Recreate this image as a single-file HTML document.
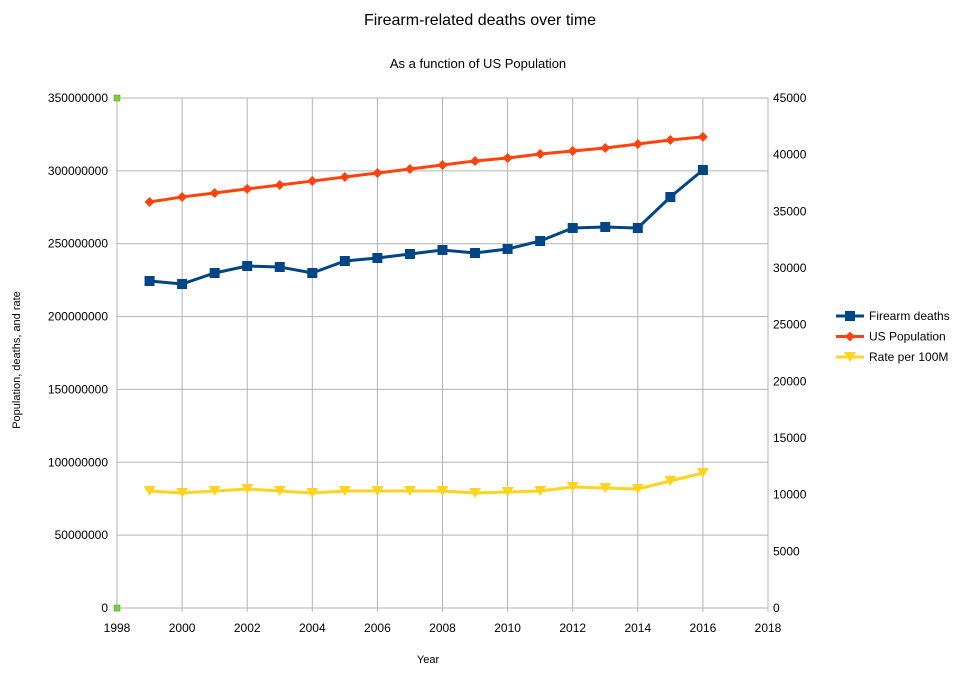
<!DOCTYPE html>
<html><head><meta charset="utf-8"><style>
body{margin:0;background:#fff;font-family:"Liberation Sans",sans-serif}
svg text{font-family:"Liberation Sans",sans-serif;fill:#000}
</style></head><body>
<svg id="c" width="960" height="668">
<text x="480" y="25" font-size="16" text-anchor="middle">Firearm-related deaths over time</text>
<text x="478" y="68" font-size="13" text-anchor="middle">As a function of US Population</text>
<text transform="translate(20,360) rotate(-90)" font-size="11" text-anchor="middle">Population, deaths, and rate</text>
<text x="428" y="663" font-size="11" text-anchor="middle">Year</text>
<g id="grid"></g><g id="marks"></g><g id="legend"></g>
</svg>
<script>
const years=[1999,2000,2001,2002,2003,2004,2005,2006,2007,2008,2009,2010,2011,2012,2013,2014,2015,2016];
const deaths=[28853,28588,29559,30176,30088,29559,30618,30882,31235,31588,31324,31676,32382,33529,33618,33529,36265,38647];
const population=[278.6e6,282.1e6,284.8e6,287.6e6,290.3e6,293.0e6,295.8e6,298.5e6,301.3e6,304.0e6,306.8e6,308.8e6,311.6e6,313.6e6,315.7e6,318.4e6,321.2e6,323.3e6];
const rate=[10324,10147,10324,10500,10324,10147,10324,10324,10324,10324,10147,10235,10324,10676,10588,10500,11206,11912];
const xTicks=[1998,2000,2002,2004,2006,2008,2010,2012,2014,2016,2018];
const leftTicks=[0,50000000,100000000,150000000,200000000,250000000,300000000,350000000];
const rightTicks=[0,5000,10000,15000,20000,25000,30000,35000,40000,45000];
const X0=117,X1=768,Y0=608,Y1=98;
const xs=v=>X0+(v-1998)/20*(X1-X0);
const yl=v=>Y0-v/350e6*(Y0-Y1);
const yr=v=>Y0-v/45000*(Y0-Y1);
const NS="http://www.w3.org/2000/svg";
function mk(tag,attrs,parent,txt){const e=document.createElementNS(NS,tag);for(const k in attrs)e.setAttribute(k,attrs[k]);if(txt!==undefined)e.textContent=txt;parent.appendChild(e);return e;}
const grid=document.getElementById('grid'),marks=document.getElementById('marks'),leg=document.getElementById('legend');
leftTicks.forEach(t=>{const y=yl(t);
 const l=mk('line',{x1:X0,x2:X1,y1:y,y2:y,stroke:'#b3b3b3','stroke-width':1},grid);
 
 
 const tx=mk('text',{x:108,y:y+4,'font-size':12,'text-anchor':'end'},grid,String(t));
 
 });
rightTicks.forEach(t=>{const y=yr(t);
 const tx=mk('text',{x:773,y:y+4,'font-size':12},grid,String(t));
 
 });
xTicks.forEach(t=>{const x=xs(t);
 const l=mk('line',{x1:x,x2:x,y1:Y1,y2:Y0+4,stroke:'#b3b3b3','stroke-width':1},grid);
 
 
 const tx=mk('text',{x:x,y:632,'font-size':12,'text-anchor':'middle'},grid,String(t));
 
 });
[Y1,Y0].forEach(y=>{const r=mk('rect',{x:X0-3,y:y-3,width:6,height:6,fill:'#7fd13b',stroke:'#4a8a1c','stroke-width':0.5},grid);
 
 });
function series(vals,sc,color,shape,name){
 const pts=vals.map((v,i)=>[xs(years[i]),sc(v)]);
 const p=mk('polyline',{points:pts.map(p=>p.join(',')).join(' '),fill:'none',stroke:color,'stroke-width':3},marks);
 
 
 pts.forEach(([x,y])=>{drawMarker(x,y,color,shape,name+'-point');});}
function drawMarker(x,y,color,shape,nm){let m;
 if(shape==='sq')m=mk('rect',{x:x-5,y:y-5,width:10,height:10,fill:color},marks);
 else if(shape==='di')m=mk('polygon',{points:`${x},${y-5} ${x+5},${y} ${x},${y+5} ${x-5},${y}`,fill:color},marks);
 else m=mk('polygon',{points:`${x-6},${y-5} ${x+6},${y-5} ${x},${y+5}`,fill:color},marks);
 
 }
series(population,yl,'#ff420e','di','us-population');
series(deaths,yr,'#004586','sq','firearm-deaths');
series(rate,yr,'#ffd320','tri','rate-per-100m');
[['Firearm deaths','#004586','sq'],['US Population','#ff420e','di'],['Rate per 100M','#ffd320','tri']].forEach((e,i)=>{
 const y=316+i*20.5;
 const l=mk('line',{x1:836,x2:864,y1:y,y2:y,stroke:e[1],'stroke-width':3},leg);
 
 
 drawMarker(850,y,e[1],e[2],'legend-marker');
 const t=mk('text',{x:869,y:y+4,'font-size':12},leg,e[0]);
 
 });
</script>
</body></html>
